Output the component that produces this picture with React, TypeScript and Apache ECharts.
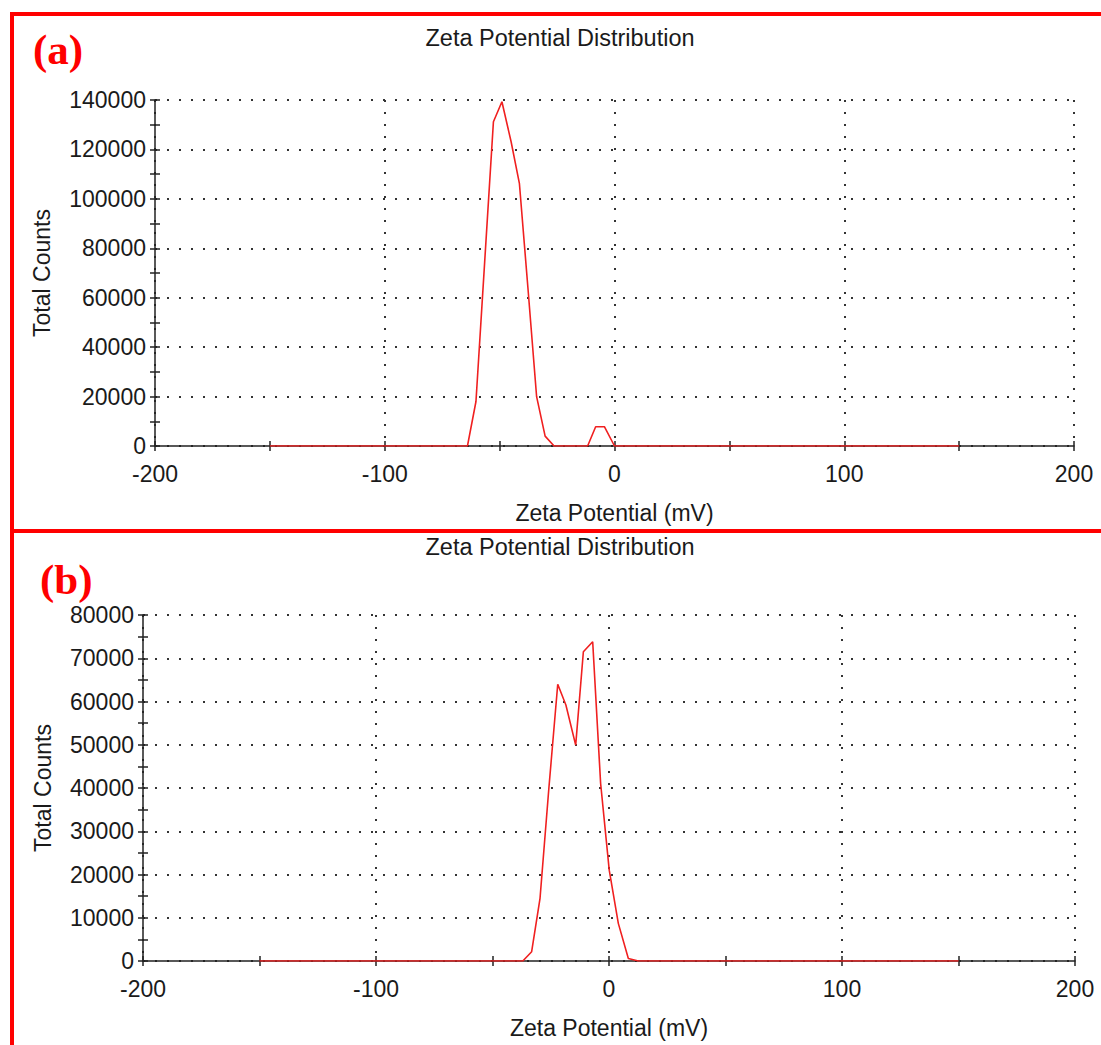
import React, { useEffect, useRef } from "react";
import * as echarts from "echarts";

// Panel (a) data: zeta potential (mV) vs total counts
const xA = [-150, -64, -60.3, -56.5, -52.7, -49, -45, -41.4, -37.6, -33.9, -30.2, -26.3, -11.7, -8.2, -4.4, 0, 150];
const yA = [0, 0, 18000, 74600, 131200, 139300, 123100, 106300, 63000, 19950, 4000, 0, 0, 7800, 7800, 0, 0];

// Panel (b) data
const xB = [-150, -37, -33.2, -29.6, -25.8, -22, -18.5, -14.3, -11, -7, -3.6, 0.1, 4, 8.3, 12.6, 150];
const yB = [0, 0, 2150, 14500, 40000, 64000, 59200, 49900, 71500, 73800, 41100, 21000, 8700, 600, 0, 0];

const titleText = "Zeta Potential Distribution";
const xName = "Zeta Potential (mV)";
const yName = "Total Counts";
const panelLabels = ["(a)", "(b)"];

const FONT = "Liberation Sans, Arial, sans-serif";
const TEXT_COLOR = "#1a1a1a";
const DOT = { color: "#333", width: 2, type: [2, 10] as number[] };

function mainX(gridIndex: number) {
  return {
    type: "value",
    gridIndex,
    position: "bottom",
    min: -200,
    max: 200,
    interval: 100,
    name: xName,
    nameLocation: "middle",
    nameGap: 55,
    nameTextStyle: { fontFamily: FONT, fontSize: 23, color: TEXT_COLOR },
    axisLine: { show: true, onZero: false, lineStyle: { color: "#222", width: 1.5 } },
    axisTick: { show: true, length: 5, lineStyle: { color: "#222", width: 1.5 } },
    minorTick: { show: true, splitNumber: 2, length: 5, lineStyle: { color: "#222", width: 1.5 } },
    axisLabel: { fontFamily: FONT, fontSize: 23, color: TEXT_COLOR, margin: 16 },
    splitLine: { show: true, lineStyle: DOT },
  };
}
function innerX(gridIndex: number) {
  return {
    type: "value",
    gridIndex,
    position: "bottom",
    min: -200,
    max: 200,
    interval: 100,
    axisLine: { show: false, onZero: false },
    axisTick: { show: true, inside: true, length: 5, lineStyle: { color: "#222", width: 1.5 } },
    minorTick: { show: true, splitNumber: 2, length: 5, lineStyle: { color: "#222", width: 1.5 } },
    axisLabel: { show: false },
    splitLine: { show: false },
  };
}
function mainY(gridIndex: number, max: number, interval: number, gap: number) {
  return {
    type: "value",
    gridIndex,
    position: "left",
    min: 0,
    max,
    interval,
    name: yName,
    nameLocation: "middle",
    nameGap: gap,
    nameTextStyle: { fontFamily: FONT, fontSize: 23, color: TEXT_COLOR },
    axisLine: { show: true, onZero: false, lineStyle: { color: "#222", width: 1.5 } },
    axisTick: { show: true, length: 5, lineStyle: { color: "#222", width: 1.5 } },
    minorTick: { show: true, splitNumber: 2, length: 5, lineStyle: { color: "#222", width: 1.5 } },
    axisLabel: {
      fontFamily: FONT,
      fontSize: 23,
      color: TEXT_COLOR,
      margin: 9,
      formatter: (v: number) => String(v),
    },
    splitLine: { show: true, lineStyle: DOT },
  };
}
function innerY(gridIndex: number, max: number, interval: number) {
  return {
    type: "value",
    gridIndex,
    position: "left",
    min: 0,
    max,
    interval,
    axisLine: { show: false, onZero: false },
    axisTick: { show: true, inside: true, length: 5, lineStyle: { color: "#222", width: 1.5 } },
    minorTick: { show: true, splitNumber: 2, length: 5, lineStyle: { color: "#222", width: 1.5 } },
    axisLabel: { show: false },
    splitLine: { show: false },
  };
}

export default function App() {
  const ref = useRef<HTMLDivElement>(null);
  useEffect(() => {
    if (!ref.current) return;
    const chart = echarts.init(ref.current, null, { renderer: "svg" });
    const red = "#ff0000";
    chart.setOption({
      animation: false,
      backgroundColor: "#ffffff",
      title: [
        {
          text: titleText,
          left: 555,
          top: 21,
          textAlign: "center",
          textStyle: { fontFamily: FONT, fontSize: 23.5, fontWeight: "normal", color: TEXT_COLOR },
        },
        {
          text: titleText,
          left: 555,
          top: 530,
          textAlign: "center",
          textStyle: { fontFamily: FONT, fontSize: 23.5, fontWeight: "normal", color: TEXT_COLOR },
        },
      ],
      grid: [
        { left: 155, right: 27, top: 100, height: 346 },
        { left: 143, right: 26, top: 615, height: 346 },
      ],
      xAxis: [mainX(0), innerX(0), mainX(1), innerX(1)],
      yAxis: [
        mainY(0, 140000, 20000, 102),
        innerY(0, 140000, 20000),
        mainY(1, 80000, 10000, 89),
        innerY(1, 80000, 10000),
      ],
      series: [
        {
          type: "line",
          xAxisIndex: 0,
          yAxisIndex: 0,
          data: xA.map((x, i) => [x, yA[i]]),
          showSymbol: false,
          lineStyle: { color: "#f02020", width: 1.6 },
          z: 5,
        },
        {
          type: "line",
          xAxisIndex: 2,
          yAxisIndex: 2,
          data: xB.map((x, i) => [x, yB[i]]),
          showSymbol: false,
          lineStyle: { color: "#f02020", width: 1.6 },
          z: 5,
        },
      ],
      graphic: [
        { type: "rect", shape: { x: 10, y: 12, width: 1091, height: 4 }, style: { fill: red } },
        { type: "rect", shape: { x: 10, y: 12, width: 4, height: 1033 }, style: { fill: red } },
        { type: "rect", shape: { x: 10, y: 529, width: 1091, height: 4 }, style: { fill: red } },
        {
          type: "text",
          x: 33,
          y: 49,
          style: {
            text: panelLabels[0],
            fill: red,
            font: "bold 43px 'Liberation Serif', 'Times New Roman', serif",
            textVerticalAlign: "middle",
          },
        },
        {
          type: "text",
          x: 40,
          y: 579,
          style: {
            text: panelLabels[1],
            fill: red,
            font: "bold 43px 'Liberation Serif', 'Times New Roman', serif",
            textVerticalAlign: "middle",
          },
        },
      ],
    });
    return () => chart.dispose();
  }, []);
  return (
    <div
      ref={ref}
      style={{ position: "absolute", left: 0, top: 0, width: 1101, height: 1045 }}
    />
  );
}
